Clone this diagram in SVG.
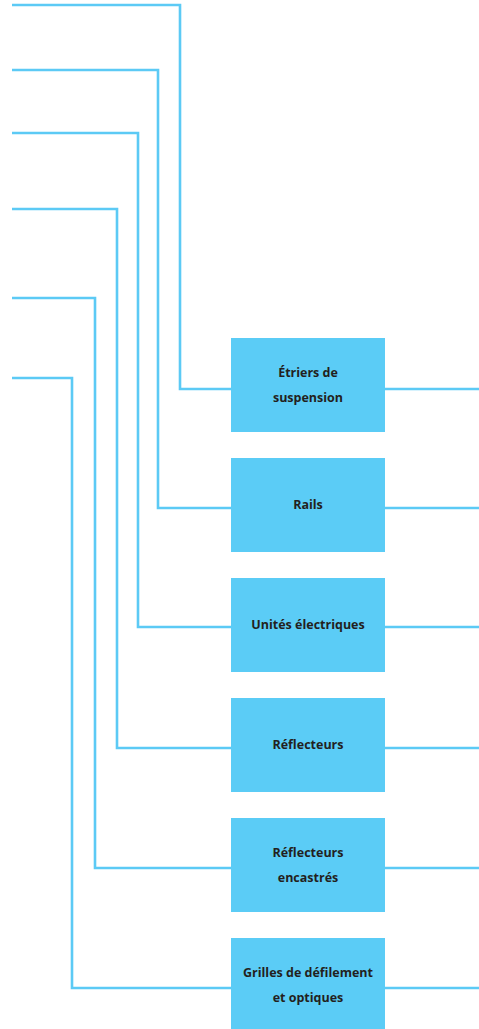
<svg xmlns="http://www.w3.org/2000/svg" width="479" height="1029" viewBox="0 0 479 1029">
<style>
.c{fill:none;stroke:#5ccaf5;stroke-width:2.6}
.b{fill:#5bccf6}
.t{font-family:"Open Sans","Liberation Sans",sans-serif;font-weight:bold;font-size:12.5px;fill:#231f20;text-anchor:middle}
</style>
<rect width="479" height="1029" fill="#fff"/>
<g id="connectors">
<path class="c" d="M12 5H180V389H231M385 389H479"/>
<path class="c" d="M12 70H158V508H231M385 508H479"/>
<path class="c" d="M12 133H138V627H231M385 627H479"/>
<path class="c" d="M12 209H117V748H231M385 748H479"/>
<path class="c" d="M12 298H95V868H231M385 868H479"/>
<path class="c" d="M12 378H72V988H231M385 988H479"/>
</g>
<g id="n1"><rect class="b" x="231" y="338" width="154" height="94"/><text class="t" x="308" y="377">Étriers de</text><text class="t" x="308" y="402">suspension</text></g>
<g id="n2"><rect class="b" x="231" y="458" width="154" height="94"/><text class="t" x="308" y="509">Rails</text></g>
<g id="n3"><rect class="b" x="231" y="578" width="154" height="94"/><text class="t" x="308" y="629">Unités électriques</text></g>
<g id="n4"><rect class="b" x="231" y="698" width="154" height="94"/><text class="t" x="308" y="749">Réflecteurs</text></g>
<g id="n5"><rect class="b" x="231" y="818" width="154" height="94"/><text class="t" x="308" y="857">Réflecteurs</text><text class="t" x="308" y="882">encastrés</text></g>
<g id="n6"><rect class="b" x="231" y="938" width="154" height="94"/><text class="t" x="308" y="977">Grilles de défilement</text><text class="t" x="308" y="1002">et optiques</text></g>
</svg>
